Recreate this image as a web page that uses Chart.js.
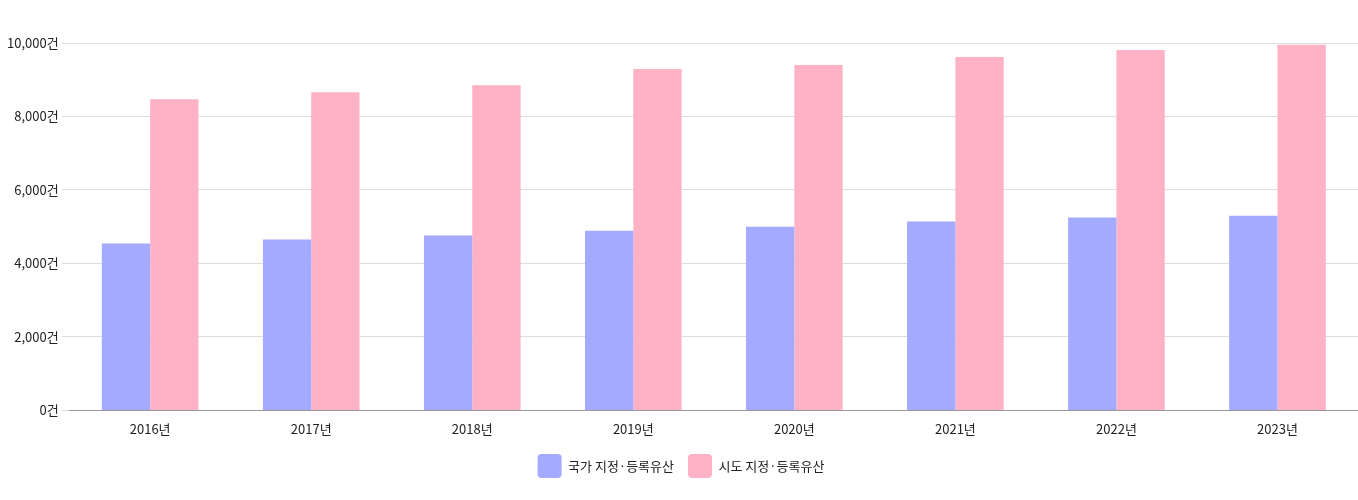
<!DOCTYPE html>
<html>
<head>
<meta charset="utf-8">
<script src="https://cdn.jsdelivr.net/npm/chart.js@4"></script>
<style>
  html, body { margin: 0; padding: 0; background: #fff; }
  #wrap { width: 1358px; height: 500px; }
</style>
</head>
<body>
<div id="wrap"><canvas id="chart"></canvas></div>
<script>
var years = ['2016년', '2017년', '2018년', '2019년', '2020년', '2021년', '2022년', '2023년'];
var nationalHeritage = [4540, 4650, 4760, 4890, 5000, 5140, 5250, 5300];
var cityHeritage = [8470, 8660, 8850, 9290, 9400, 9620, 9810, 9950];

Chart.defaults.font.family = '"Noto Sans CJK KR", "Noto Sans", sans-serif';
Chart.defaults.font.size = 13;
Chart.defaults.color = '#222';

new Chart(document.getElementById('chart'), {
    type: 'bar',
    data: {
        labels: years,
        datasets: [
            {
                label: '국가 지정·등록유산',
                data: nationalHeritage,
                backgroundColor: '#a3aaff',
                categoryPercentage: 0.6,
                barPercentage: 1.0
            },
            {
                label: '시도 지정·등록유산',
                data: cityHeritage,
                backgroundColor: '#ffb1c6',
                categoryPercentage: 0.6,
                barPercentage: 1.0
            }
        ]
    },
    options: {
        responsive: true,
        maintainAspectRatio: false,
        animation: false,
        layout: { padding: { top: 43, left: 4, right: 0, bottom: 12 } },
        plugins: {
            legend: {
                position: 'bottom',
                labels: {
                    boxWidth: 24,
                    boxHeight: 24,
                    useBorderRadius: true,
                    borderRadius: 4,
                    padding: 14
                }
            }
        },
        scales: {
            x: {
                grid: { display: false },
                border: { color: '#999' }
            },
            y: {
                min: 0,
                max: 10000,
                ticks: {
                    stepSize: 2000,
                    callback: function(v) { return v.toLocaleString('en-US') + '건'; }
                },
                grid: { color: '#ddd' },
                border: { display: false }
            }
        }
    }
});
</script>
</body>
</html>
